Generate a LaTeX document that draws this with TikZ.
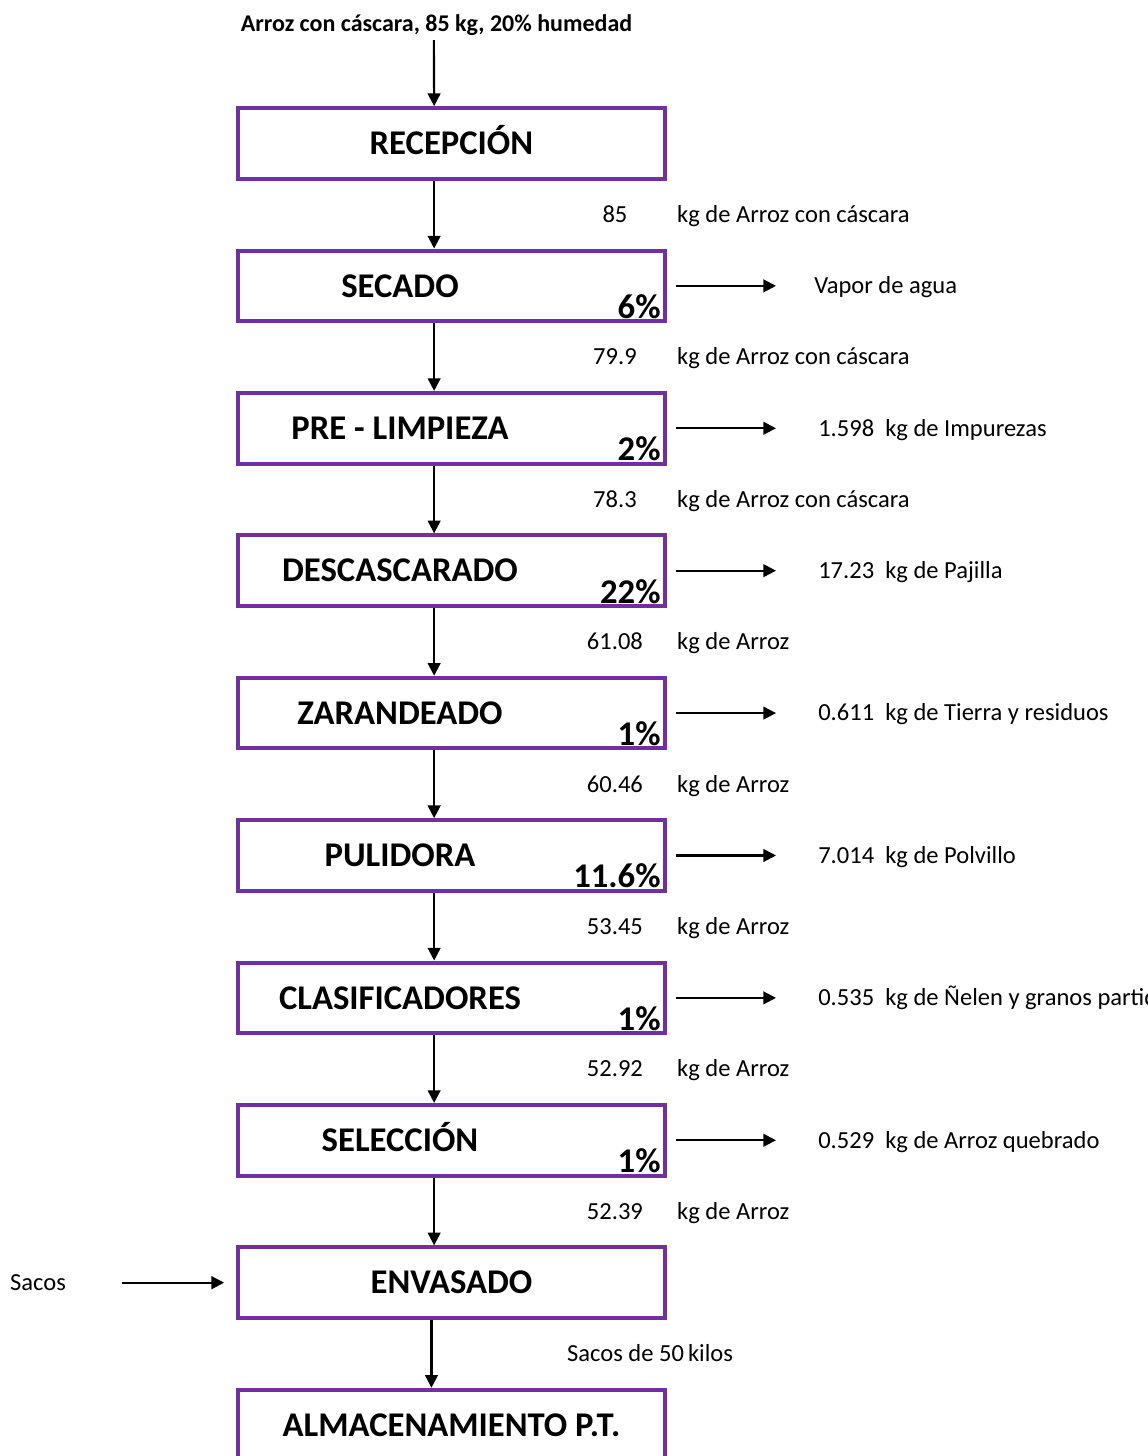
\documentclass[tikz,border=0pt]{standalone}
\usepackage{fontspec}
\setmainfont{Carlito}
\usetikzlibrary{arrows.meta, positioning, calc}
\definecolor{Violet}{HTML}{7030A0}
\tikzset{
  procbox/.style={rectangle, draw=Violet, line width=3pt, fill=white,
                  minimum width=320pt, minimum height=53pt, inner sep=0pt},
  stagetxt/.style={font=\fontsize{26}{30}\selectfont\bfseries, inner sep=0pt,
                  text height=16.7pt, text depth=0pt},
  pcttxt/.style={font=\fontsize{26}{30}\selectfont\bfseries, inner sep=0pt,
                  anchor=base east},
  flowtxt/.style={font=\fontsize{18.4}{22}\selectfont, inner sep=0pt,
                  text height=11.8pt, text depth=0pt},
}

\begin{document}
\begin{tikzpicture}[
    arr/.style={-{Triangle[length=9.5pt,width=9.5pt]}, line width=1.6pt},
    node distance=50.8pt
  ]
  \clip (0,0) rectangle (860.25pt,-1092pt);
  % etapas del proceso
  \node[procbox] (rec) at (338.6pt,-107.6pt) {};
  \node[procbox, below=of rec] (sec) {};
  \node[procbox, below=of sec] (pre) {};
  \node[procbox, below=of pre] (des) {};
  \node[procbox, below=of des] (zar) {};
  \node[procbox, below=of zar] (pul) {};
  \node[procbox, below=of pul] (cla) {};
  \node[procbox, below=of cla] (sel) {};
  \node[procbox, below=of sel] (env) {};
  \node[procbox, below=of env] (alm) {};

  \node[stagetxt] (recT) at (rec.center) {RECEPCIÓN};
  \node[stagetxt] (secT) at ([xshift=-38.6pt]sec.center) {SECADO};
  \node[stagetxt] (preT) at ([xshift=-38.6pt]pre.center) {PRE - LIMPIEZA};
  \node[stagetxt] (desT) at ([xshift=-38.6pt]des.center) {DESCASCARADO};
  \node[stagetxt] (zarT) at ([xshift=-38.6pt]zar.center) {ZARANDEADO};
  \node[stagetxt] (pulT) at ([xshift=-38.6pt]pul.center) {PULIDORA};
  \node[stagetxt] (claT) at ([xshift=-38.6pt]cla.center) {CLASIFICADORES};
  \node[stagetxt] (selT) at ([xshift=-38.6pt]sel.center) {SELECCIÓN};
  \node[stagetxt] (envT) at (env.center) {ENVASADO};
  \node[stagetxt] (almT) at (alm.center) {ALMACENAMIENTO P.T.};

  % porcentajes de merma
  \node[pcttxt] (secP) at ([xshift=-4.5pt,yshift=3.75pt]sec.south east) {6\%};
  \node[pcttxt] (preP) at ([xshift=-4.5pt,yshift=3.75pt]pre.south east) {2\%};
  \node[pcttxt] (desP) at ([xshift=-4.5pt,yshift=3.75pt]des.south east) {22\%};
  \node[pcttxt] (zarP) at ([xshift=-4.5pt,yshift=3.75pt]zar.south east) {1\%};
  \node[pcttxt] (pulP) at ([xshift=-4.5pt,yshift=3.75pt]pul.south east) {11.6\%};
  \node[pcttxt] (claP) at ([xshift=-4.5pt,yshift=3.75pt]cla.south east) {1\%};
  \node[pcttxt] (selP) at ([xshift=-4.5pt,yshift=3.75pt]sel.south east) {1\%};

  % entrada
  \node[flowtxt, font=\fontsize{18}{22}\selectfont\bfseries] (inp) at (327.4pt,-18pt)
    {Arroz con cáscara, 85 kg, 20\% humedad};
  \draw[arr] ([xshift=-2pt,yshift=-6pt]inp.south) -- ([xshift=-13pt]rec.north);

  % flujo principal
  \draw[arr] ([xshift=-13pt]rec.south) -- ([xshift=-13pt]sec.north);
  \draw[arr] ([xshift=-13pt]sec.south) -- ([xshift=-13pt]pre.north);
  \draw[arr] ([xshift=-13pt]pre.south) -- ([xshift=-13pt]des.north);
  \draw[arr] ([xshift=-13pt]des.south) -- ([xshift=-13pt]zar.north);
  \draw[arr] ([xshift=-13pt]zar.south) -- ([xshift=-13pt]pul.north);
  \draw[arr] ([xshift=-13pt]pul.south) -- ([xshift=-13pt]cla.north);
  \draw[arr] ([xshift=-13pt]cla.south) -- ([xshift=-13pt]sel.north);
  \draw[arr] ([xshift=-13pt]sel.south) -- ([xshift=-13pt]env.north);
  \draw[arr] ([xshift=-15pt]env.south) -- ([xshift=-15pt]alm.north);

  % cantidades entre etapas
  \node[flowtxt] (q1) at ([xshift=122.6pt]$(rec.south)!0.5!(sec.north)$) {85};
  \node[flowtxt, anchor=west] (q1t) at ([xshift=169.1pt]$(rec.south)!0.5!(sec.north)$) {kg de Arroz con cáscara};
  \node[flowtxt] (q2) at ([xshift=122.6pt]$(sec.south)!0.5!(pre.north)$) {79.9};
  \node[flowtxt, anchor=west] (q2t) at ([xshift=169.1pt]$(sec.south)!0.5!(pre.north)$) {kg de Arroz con cáscara};
  \node[flowtxt] (q3) at ([xshift=122.6pt]$(pre.south)!0.5!(des.north)$) {78.3};
  \node[flowtxt, anchor=west] (q3t) at ([xshift=169.1pt]$(pre.south)!0.5!(des.north)$) {kg de Arroz con cáscara};
  \node[flowtxt] (q4) at ([xshift=122.6pt]$(des.south)!0.5!(zar.north)$) {61.08};
  \node[flowtxt, anchor=west] (q4t) at ([xshift=169.1pt]$(des.south)!0.5!(zar.north)$) {kg de Arroz};
  \node[flowtxt] (q5) at ([xshift=122.6pt]$(zar.south)!0.5!(pul.north)$) {60.46};
  \node[flowtxt, anchor=west] (q5t) at ([xshift=169.1pt]$(zar.south)!0.5!(pul.north)$) {kg de Arroz};
  \node[flowtxt] (q6) at ([xshift=122.6pt]$(pul.south)!0.5!(cla.north)$) {53.45};
  \node[flowtxt, anchor=west] (q6t) at ([xshift=169.1pt]$(pul.south)!0.5!(cla.north)$) {kg de Arroz};
  \node[flowtxt] (q7) at ([xshift=122.6pt]$(cla.south)!0.5!(sel.north)$) {52.92};
  \node[flowtxt, anchor=west] (q7t) at ([xshift=169.1pt]$(cla.south)!0.5!(sel.north)$) {kg de Arroz};
  \node[flowtxt] (q8) at ([xshift=122.6pt]$(sel.south)!0.5!(env.north)$) {52.39};
  \node[flowtxt, anchor=west] (q8t) at ([xshift=169.1pt]$(sel.south)!0.5!(env.north)$) {kg de Arroz};
  \node[flowtxt, anchor=west] (q9t) at ([xshift=86.6pt]$(env.south)!0.5!(alm.north)$) {Sacos de 50\,kilos};

  % salidas
  \node[flowtxt, anchor=west] (o1) at ([xshift=110.4pt]sec.east) {Vapor de agua};
  \node[flowtxt, anchor=west] (o2) at ([xshift=113.4pt]pre.east) {1.598\ \ kg de Impurezas};
  \node[flowtxt, anchor=west] (o3) at ([xshift=113.4pt]des.east) {17.23\ \ kg de Pajilla};
  \node[flowtxt, anchor=west] (o4) at ([xshift=113.4pt]zar.east) {0.611\ \ kg de Tierra y residuos};
  \node[flowtxt, anchor=west] (o5) at ([xshift=113.4pt]pul.east) {7.014\ \ kg de Polvillo};
  \node[flowtxt, anchor=west] (o6) at ([xshift=113.4pt]cla.east) {0.535\ \ kg de Ñelen y granos partidos};
  \node[flowtxt, anchor=west] (o7) at ([xshift=113.4pt]sel.east) {0.529\ \ kg de Arroz quebrado};
  \draw[arr] ([xshift=6.9pt]sec.east) -- ([xshift=-28.5pt]o1.west);
  \draw[arr] ([xshift=6.9pt]pre.east) -- ([xshift=-31.5pt]o2.west);
  \draw[arr] ([xshift=6.9pt]des.east) -- ([xshift=-31.5pt]o3.west);
  \draw[arr] ([xshift=6.9pt]zar.east) -- ([xshift=-31.5pt]o4.west);
  \draw[arr] ([xshift=6.9pt]pul.east) -- ([xshift=-31.5pt]o5.west);
  \draw[arr] ([xshift=6.9pt]cla.east) -- ([xshift=-31.5pt]o6.west);
  \draw[arr] ([xshift=6.9pt]sel.east) -- ([xshift=-31.5pt]o7.west);

  % sacos
  \node[flowtxt, anchor=east] (sac) at ([xshift=-127.5pt]env.west) {Sacos};
  \draw[arr] ([xshift=42pt]sac.east) -- ([xshift=-9pt]env.west);
\end{tikzpicture}
\end{document}
